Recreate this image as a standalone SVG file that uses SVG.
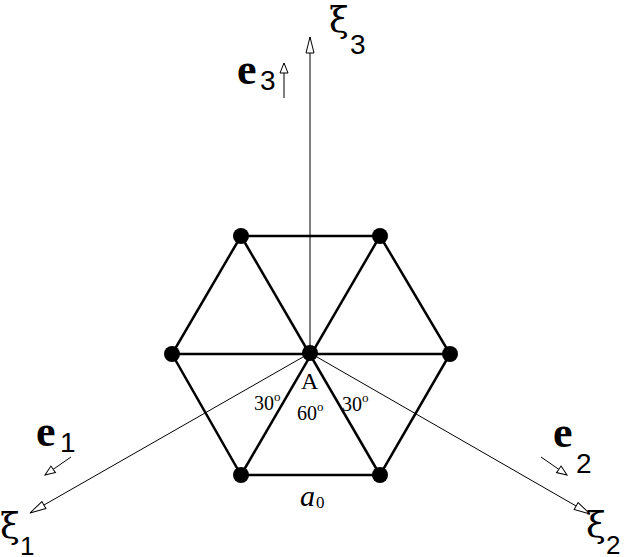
<svg xmlns="http://www.w3.org/2000/svg" width="640" height="557" viewBox="0 0 640 557">
<style>
.ax{stroke:#000;stroke-width:1;fill:none}
.hx{stroke:#000;stroke-width:2.5;fill:none}
.t{font-family:"Liberation Serif",serif;fill:#000}
.s{font-family:"Liberation Sans",sans-serif;fill:#000}
.x{font-family:"DejaVu Serif",serif;fill:#000}
</style>
<defs>
<marker id="oa" markerWidth="18" markerHeight="10" refX="17" refY="5" orient="auto" markerUnits="userSpaceOnUse"><path d="M1,1 L17,5 L1,9 Z" fill="#fff" stroke="#000" stroke-width="1"/></marker>
<marker id="sa" markerWidth="12" markerHeight="10" refX="11" refY="5" orient="auto" markerUnits="userSpaceOnUse"><path d="M1,1 L11,5 L1,9 Z" fill="#fff" stroke="#000" stroke-width="1"/></marker>
</defs>
<rect width="640" height="557" fill="#fff"/>
<g id="connectors">
<line class="ax" x1="310" y1="353" x2="310" y2="37" marker-end="url(#oa)"/>
<line class="ax" x1="310" y1="353" x2="30" y2="513" marker-end="url(#oa)"/>
<line class="ax" x1="310" y1="353" x2="590" y2="514" marker-end="url(#oa)"/>
<line class="ax" x1="284" y1="98" x2="284" y2="63" marker-end="url(#sa)"/>
<line class="ax" x1="71" y1="457" x2="45" y2="475" marker-end="url(#sa)"/>
<line class="ax" x1="541" y1="457" x2="567" y2="475" marker-end="url(#sa)"/>
<g class="hx">
<polygon points="241,236 380,236 450,354 380,475 241,475 172,354"/>
<line x1="172" y1="354" x2="450" y2="354"/>
<line x1="241" y1="236" x2="380" y2="475"/>
<line x1="380" y1="236" x2="241" y2="475"/>
</g>
</g>
<g id="nodes">
<circle id="A" cx="310" cy="353" r="8"/>
<circle id="v1" cx="241" cy="236" r="8"/>
<circle id="v2" cx="380" cy="236" r="8"/>
<circle id="v3" cx="450" cy="354" r="8"/>
<circle id="v4" cx="380" cy="475" r="8"/>
<circle id="v5" cx="241" cy="475" r="8"/>
<circle id="v6" cx="172" cy="354" r="8"/>
</g>
<g id="labels">
<text class="t" x="301" y="389" font-size="24">A</text>
<text class="t" x="254" y="410" font-size="20">30<tspan font-size="13" dy="-9">o</tspan></text>
<text class="t" x="297" y="420" font-size="20">60<tspan font-size="13" dy="-9">o</tspan></text>
<text class="t" x="342" y="411" font-size="20">30<tspan font-size="13" dy="-9">o</tspan></text>
<text class="t" x="300" y="506" font-size="30" font-style="italic">a</text>
<text class="t" x="316" y="508" font-size="17">0</text>
<text class="t" x="237" y="84" font-size="44" font-weight="bold">e</text>
<text class="s" x="260" y="90" font-size="28">3</text>
<text class="t" x="36" y="446" font-size="44" font-weight="bold">e</text>
<text class="s" x="60" y="452" font-size="28">1</text>
<text class="t" x="553" y="447" font-size="44" font-weight="bold">e</text>
<text class="s" x="576" y="473" font-size="28">2</text>
<text class="x" x="329" y="32" font-size="36">ξ</text>
<text class="s" x="350" y="54" font-size="28">3</text>
<text class="x" x="0" y="538" font-size="36">ξ</text>
<text class="s" x="20" y="555" font-size="26">1</text>
<text class="x" x="586" y="537" font-size="36">ξ</text>
<text class="s" x="606" y="554" font-size="26">2</text>
</g>
</svg>
